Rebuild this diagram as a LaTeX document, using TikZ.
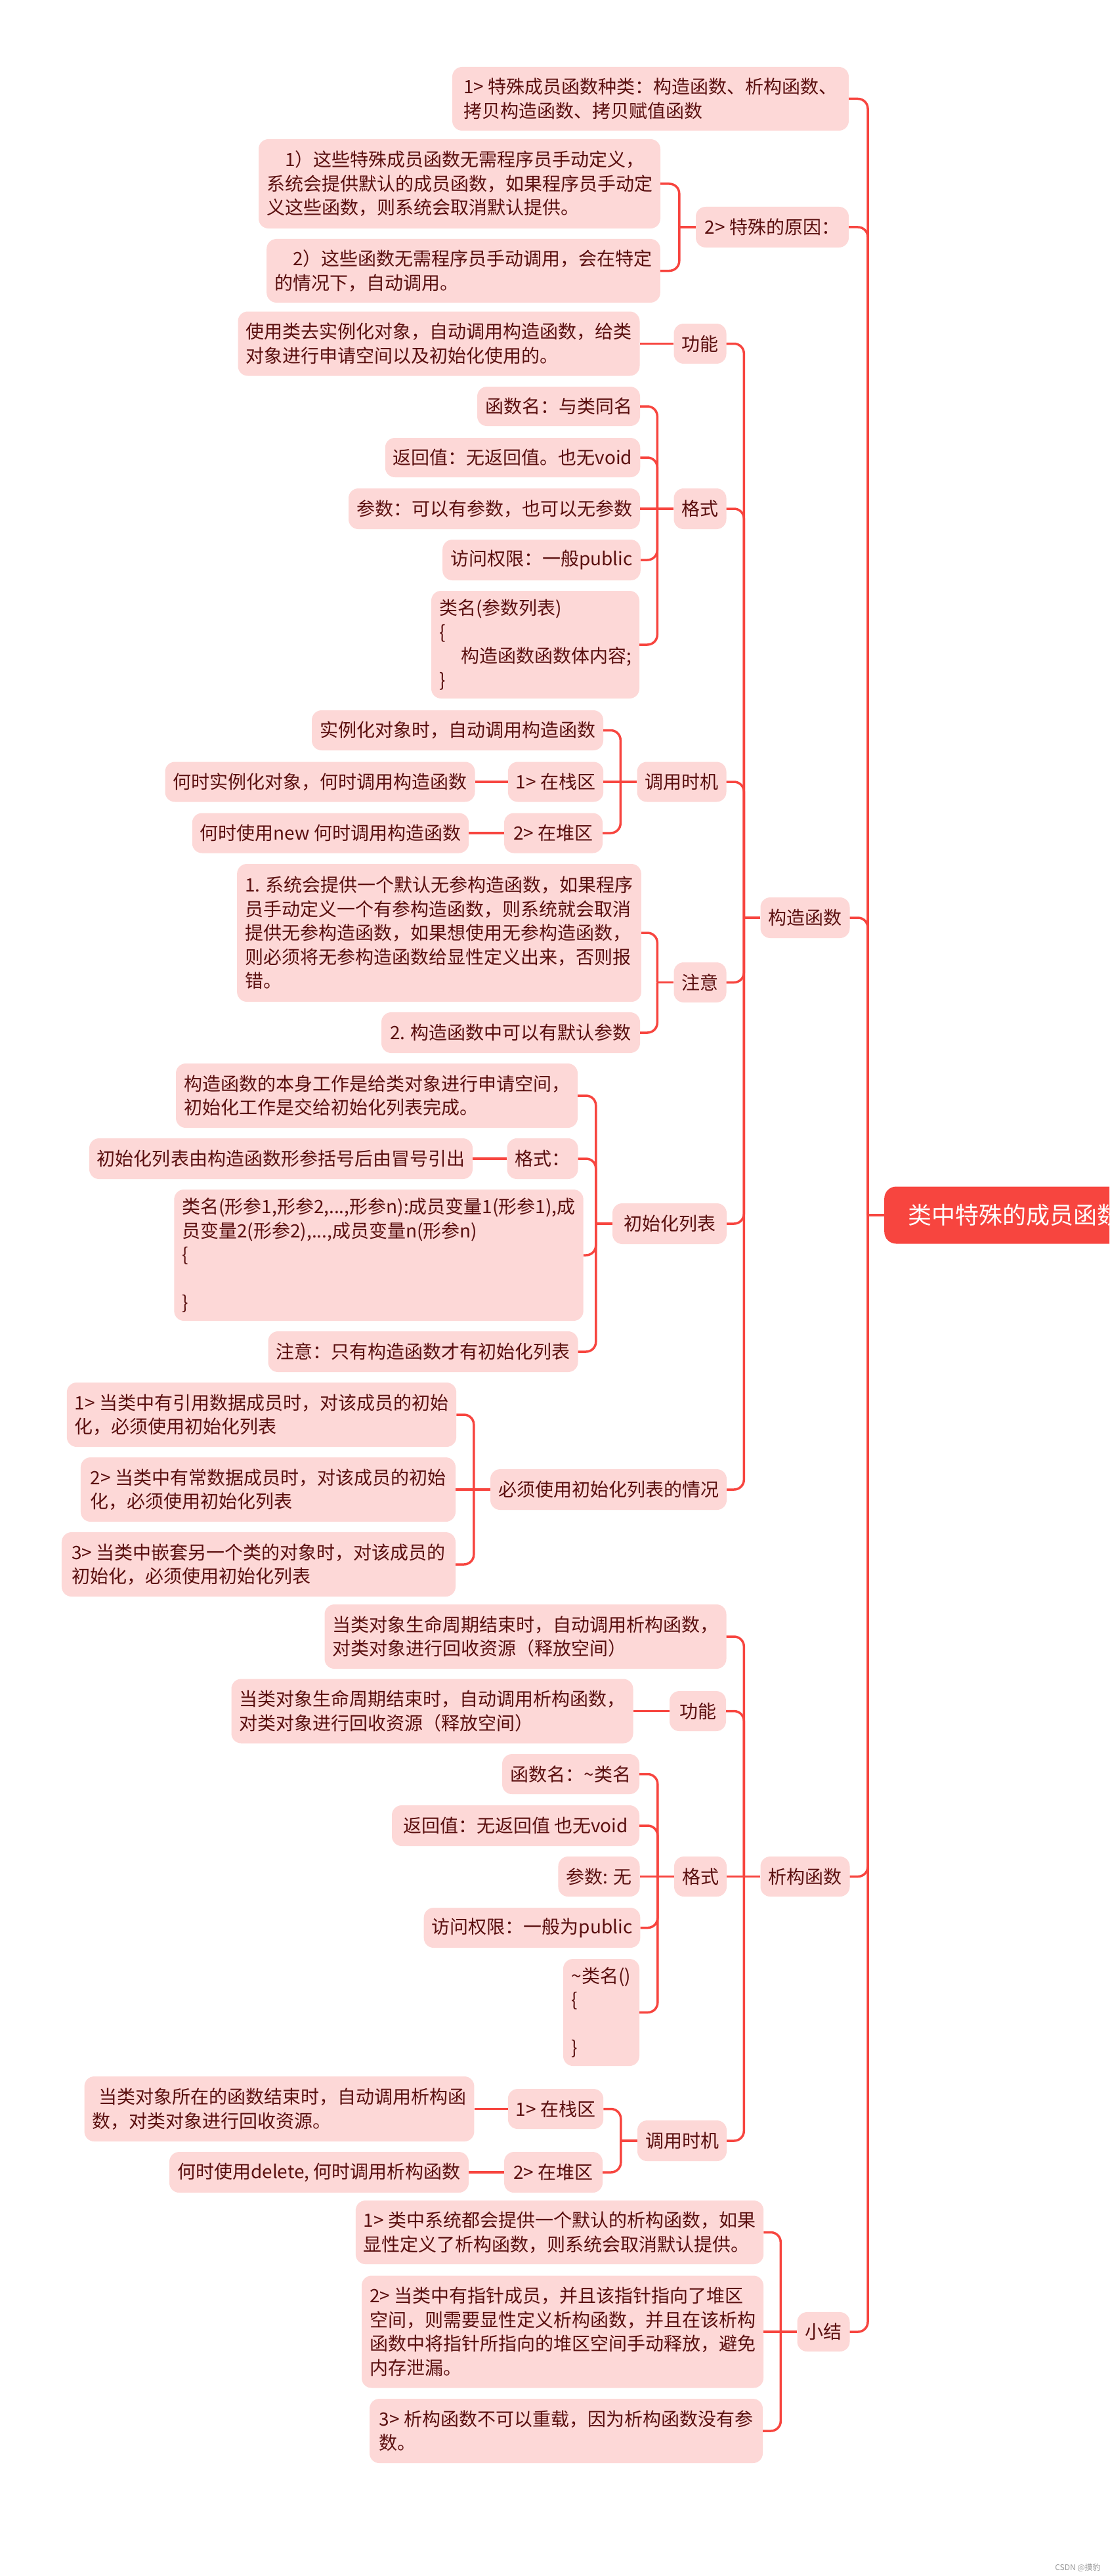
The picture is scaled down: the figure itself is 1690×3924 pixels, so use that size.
\documentclass[tikz,border=0pt]{standalone}
\usepackage{fontspec}
\setmainfont{Noto Sans CJK SC}
\definecolor{linec}{RGB}{247,69,63}
\definecolor{boxfill}{RGB}{253,216,215}
\definecolor{txt}{RGB}{90,15,15}
\tikzset{
  box/.style={draw=none, fill=boxfill, rounded corners=15bp, text=txt, inner xsep=12bp, inner ysep=0bp, align=left, font=\fontsize{28bp}{36.5bp}\selectfont},
  rootbox/.style={draw=none, fill=linec, rounded corners=18bp, text=white, inner xsep=36bp, inner ysep=0bp, minimum height=87bp, font=\fontsize{36bp}{40bp}\selectfont},
  conn/.style={draw=linec, line width=3.5bp, rounded corners=15bp},
  connstr/.style={draw=linec, line width=3.5bp},
}
\newcommand\bx[6]{\node[box,minimum width=#4bp,minimum height=#5bp] (#1) at (#2,#3) {#6};}
\newcommand\ckid[2]{\draw[conn] (#1) |- (#2.east);}
\newcommand\cstr[2]{\draw[connstr] (#1) -- (#2.east);}
\newcommand\cjn[1]{\coordinate (j#1) at ([xshift=-25bp]#1.west); \draw[connstr] (#1.west) -- (j#1);}
\begin{document}
\begin{tikzpicture}[x=1bp,y=-1bp]
\useasboundingbox (0,0) rectangle (1690,3924);
\clip (0,0) rectangle (1690,3924);
\fill[white] (0,0) rectangle (1690,3924);

% root
\node[rootbox, anchor=west] (root) at (1347,1851) {类中特殊的成员函数};

% level 1
\bx{A1}{991}{150.5}{604}{97}{1> 特殊成员函数种类：构造函数、析构函数、\\拷贝构造函数、拷贝赋值函数}
\bx{A2}{1176.5}{346}{233}{62}{2> 特殊的原因：}
\bx{B}{1226.5}{1398}{136}{62}{构造函数}
\bx{C}{1226.5}{2858.5}{134}{61}{析构函数}
\bx{D}{1254.5}{3552}{79}{60}{小结}

% A2 children
\bx{A2a}{700}{280}{610}{136}{\hspace*{1em}1）这些特殊成员函数无需程序员手动定义，\\系统会提供默认的成员函数，如果程序员手动定\\义这些函数，则系统会取消默认提供。}
\bx{A2b}{706}{412.5}{598}{97}{\hspace*{1em}2）这些函数无需程序员手动调用，会在特定\\的情况下，自动调用。}

% B children
\bx{B1}{1066.5}{523.5}{79}{61}{功能}
\bx{B1a}{668.5}{523.5}{611}{98}{使用类去实例化对象，自动调用构造函数，给类\\对象进行申请空间以及初始化使用的。}
\bx{B2}{1066.5}{775}{79}{62}{格式}
\bx{B2a}{851}{619}{246}{60}{函数名：与类同名}
\bx{B2b}{781}{697}{386}{60}{返回值：无返回值。也无void}
\bx{B2c}{753}{775}{442}{62}{参数：可以有参数，也可以无参数}
\bx{B2d}{825}{853}{298}{62}{访问权限：一般public}
\bx{B2e}{815.5}{982}{317}{164}{类名(参数列表)\\\{\\\hspace*{33bp}构造函数函数体内容;\\\}}
\bx{B3}{1038.5}{1191}{133}{61}{调用时机}
\bx{B3a}{697}{1112.5}{442}{61}{实例化对象时，自动调用构造函数}
\bx{B3b}{846.5}{1191}{143}{61}{1> 在栈区}
\bx{B3bl}{487.5}{1191}{471}{61}{何时实例化对象，何时调用构造函数}
\bx{B3c}{843}{1269}{150}{61}{2> 在堆区}
\bx{B3cl}{503.5}{1269}{421}{61}{何时使用new 何时调用构造函数}
\bx{B4}{1066.5}{1496.5}{77}{61}{注意}
\bx{B4a}{669}{1421}{612}{210}{1. 系统会提供一个默认无参构造函数，如果程序\\员手动定义一个有参构造函数，则系统就会取消\\提供无参构造函数，如果想使用无参构造函数，\\则必须将无参构造函数给显性定义出来，否则报\\错。}
\bx{B4b}{778}{1573}{394}{62}{2. 构造函数中可以有默认参数}
\bx{B5}{1020}{1864}{174}{62}{初始化列表}
\bx{B5a}{574}{1669}{612}{98}{构造函数的本身工作是给类对象进行申请空间，\\初始化工作是交给初始化列表完成。}
\bx{B5b}{826.5}{1765}{107}{62}{格式：}
\bx{B5bl}{428}{1765}{582}{62}{初始化列表由构造函数形参括号后由冒号引出}
\bx{B5c}{577}{1912}{606}{200}{类名(形参1,形参2,...,形参n):成员变量1(形参1),成\\员变量2(形参2),...,成员变量n(形参n)\\\{\\\mbox{}\\\}}
\bx{B5d}{644.5}{2059}{471}{62}{注意：只有构造函数才有初始化列表}
\bx{B6}{927}{2269}{358}{62}{必须使用初始化列表的情况}
\bx{B6a}{398.5}{2155}{591}{98}{1> 当类中有引用数据成员时，对该成员的初始\\化，必须使用初始化列表}
\bx{B6b}{408.5}{2269}{571}{98}{2> 当类中有常数据成员时，对该成员的初始\\化，必须使用初始化列表}
\bx{B6c}{394}{2383}{600}{98}{3> 当类中嵌套另一个类的对象时，对该成员的\\初始化，必须使用初始化列表}

% C children
\bx{C1}{800.5}{2493}{611}{98}{当类对象生命周期结束时，自动调用析构函数，\\对类对象进行回收资源（释放空间）}
\bx{C2}{1063}{2606.5}{86}{61}{功能}
\bx{C2a}{658.5}{2606.5}{611}{98}{当类对象生命周期结束时，自动调用析构函数，\\对类对象进行回收资源（释放空间）}
\bx{C3}{1067}{2858.5}{78}{61}{格式}
\bx{C3a}{869.5}{2702.5}{209}{61}{函数名：\textasciitilde 类名}
\bx{C3b}{785.5}{2781}{377}{62}{返回值：无返回值 也无void}
\bx{C3c}{912.5}{2858.5}{123}{61}{参数: 无}
\bx{C3d}{810.5}{2936.5}{327}{61}{访问权限：一般为public}
\bx{C3e}{916}{3065.5}{116}{163}{\textasciitilde 类名()\\\{\\\mbox{}\\\}}
\bx{C4}{1039}{3261}{134}{62}{调用时机}
\bx{C4a}{846.5}{3212.5}{143}{61}{1> 在栈区}
\bx{C4al}{425.5}{3212.5}{593}{99}{\hspace*{0.35em}当类对象所在的函数结束时，自动调用析构函\\数，对类对象进行回收资源。}
\bx{C4b}{843}{3309}{150}{62}{2> 在堆区}
\bx{C4bl}{486}{3309}{456}{62}{何时使用delete, 何时调用析构函数}

% D children
\bx{D1}{852.5}{3400.5}{619}{97}{1> 类中系统都会提供一个默认的析构函数，如果\\显性定义了析构函数，则系统会取消默认提供。}
\bx{D2}{857}{3552}{610}{171}{2> 当类中有指针成员，并且该指针指向了堆区\\空间，则需要显性定义析构函数，并且在该析构\\函数中将指针所指向的堆区空间手动释放，避免\\内存泄漏。}
\bx{D3}{862.5}{3703}{599}{98}{3> 析构函数不可以重载，因为析构函数没有参\\数。}

% connectors
\cjn{root}
\ckid{jroot}{A1} \ckid{jroot}{A2} \ckid{jroot}{B} \ckid{jroot}{C} \ckid{jroot}{D}
\cjn{A2}
\ckid{jA2}{A2a} \ckid{jA2}{A2b}
\cjn{B}
\ckid{jB}{B1} \ckid{jB}{B2} \ckid{jB}{B3} \ckid{jB}{B4} \ckid{jB}{B5} \ckid{jB}{B6}
\draw[connstr] (B1.west) -- (B1a.east);
\cjn{B2}
\ckid{jB2}{B2a} \ckid{jB2}{B2b} \cstr{jB2}{B2c} \ckid{jB2}{B2d} \ckid{jB2}{B2e}
\cjn{B3}
\ckid{jB3}{B3a} \cstr{jB3}{B3b} \ckid{jB3}{B3c}
\draw[connstr] (B3b.west) -- (B3bl.east);
\draw[connstr] (B3c.west) -- (B3cl.east);
\cjn{B4}
\ckid{jB4}{B4a} \ckid{jB4}{B4b}
\cjn{B5}
\ckid{jB5}{B5a} \ckid{jB5}{B5b} \ckid{jB5}{B5c} \ckid{jB5}{B5d}
\draw[connstr] (B5b.west) -- (B5bl.east);
\cjn{B6}
\ckid{jB6}{B6a} \cstr{jB6}{B6b} \ckid{jB6}{B6c}
\cjn{C}
\ckid{jC}{C1} \ckid{jC}{C2} \cstr{jC}{C3} \ckid{jC}{C4}
\draw[connstr] (C2.west) -- (C2a.east);
\cjn{C3}
\ckid{jC3}{C3a} \ckid{jC3}{C3b} \cstr{jC3}{C3c} \ckid{jC3}{C3d} \ckid{jC3}{C3e}
\cjn{C4}
\ckid{jC4}{C4a} \ckid{jC4}{C4b}
\draw[connstr] (C4a.west) -- (C4al.east);
\draw[connstr] (C4b.west) -- (C4bl.east);
\cjn{D}
\ckid{jD}{D1} \cstr{jD}{D2} \ckid{jD}{D3}

% watermark
\node[text={rgb,255:red,150;green,150;blue,150}, font=\fontsize{12bp}{14bp}\selectfont, inner sep=0pt] (wm) at (1642,3911) {CSDN @摸豹};
\end{tikzpicture}
\end{document}
